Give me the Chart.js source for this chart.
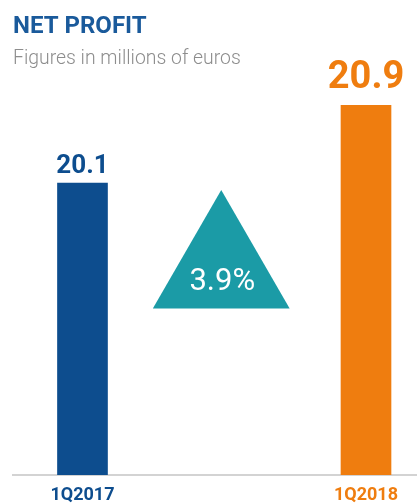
<!DOCTYPE html>
<html>
<head>
<meta charset="utf-8">
<script src="https://cdn.jsdelivr.net/npm/chart.js@4.4.1/dist/chart.umd.min.js"></script>
<style>
  html, body { margin: 0; padding: 0; background: #fff; }
  #wrap { width: 417px; height: 504px; }
</style>
</head>
<body>
<div id="wrap"><canvas id="profitChart"></canvas></div>
<script>
// Données du graphique
const categories = ['1Q2017', '1Q2018'];
const netProfit = [20.1, 20.9];
const growthLabel = '3.9%';

// Styles
const barColors = ['#0d4d8e', '#ef7d0f'];
const valueFontSizes = [26, 38];
const valueGaps = [10, 17];
const teal = '#1b9ba6';

// Étiquettes des valeurs au-dessus des barres + triangle de croissance
const overlayPlugin = {
    id: 'overlay',
    afterDatasetsDraw(chart) {
        const ctx = chart.ctx;
        const meta = chart.getDatasetMeta(0);
        const area = chart.chartArea;
        const xScale = chart.scales.x;
        ctx.save();

        meta.data.forEach((bar, i) => {
            ctx.fillStyle = barColors[i];
            ctx.font = 'bold ' + valueFontSizes[i] + 'px Roboto';
            ctx.textAlign = 'center';
            ctx.textBaseline = 'alphabetic';
            ctx.fillText(netProfit[i].toFixed(1), bar.x, bar.y - valueGaps[i]);
        });

        // triangle équilatéral entre les deux barres
        const cx = xScale.getPixelForValue(0.5) - 3;
        const cy = area.bottom - 206;
        const r = 79;
        ctx.beginPath();
        ctx.moveTo(cx, cy - r);
        ctx.lineTo(cx + r * Math.sin(2 * Math.PI / 3), cy + r / 2);
        ctx.lineTo(cx - r * Math.sin(2 * Math.PI / 3), cy + r / 2);
        ctx.closePath();
        ctx.fillStyle = teal;
        ctx.fill();

        ctx.fillStyle = '#ffffff';
        ctx.font = '31px Roboto';
        ctx.textAlign = 'center';
        ctx.textBaseline = 'alphabetic';
        ctx.fillText(growthLabel, cx + 1, cy + 21);
        ctx.restore();
    }
};

new Chart(document.getElementById('profitChart'), {
    type: 'bar',
    data: {
        datasets: [{
            data: netProfit.map((v, i) => ({ x: i, y: v })),
            backgroundColor: barColors,
            barThickness: 50,
            borderWidth: 0
        }]
    },
    options: {
        responsive: true,
        maintainAspectRatio: false,
        animation: false,
        layout: { padding: { left: 13, right: 0, top: 0, bottom: 0 } },
        plugins: {
            legend: { display: false },
            tooltip: { enabled: false },
            title: {
                display: true,
                text: 'NET PROFIT',
                align: 'start',
                color: '#1a5a9b',
                font: { family: 'Roboto', size: 24, weight: 'bold' },
                padding: { top: 13, bottom: 4 }
            },
            subtitle: {
                display: true,
                text: 'Figures in millions of euros',
                align: 'start',
                color: '#8d8d8d',
                font: { family: 'Roboto', size: 19.4, weight: '300' },
                padding: { top: 2, bottom: 3 }
            }
        },
        scales: {
            x: {
                type: 'linear',
                min: -0.2451,
                max: 1.1799,
                offset: false,
                grid: { display: false, drawTicks: false },
                border: { display: true, color: '#d3d3d3', width: 2 },
                afterBuildTicks(scale) {
                    scale.ticks = categories.map((c, i) => ({ value: i }));
                },
                afterFit(scale) {
                    scale.height = 29;
                },
                ticks: {
                    autoSkip: false,
                    maxRotation: 0,
                    padding: 10,
                    font: { family: 'Roboto', size: 18, weight: 'bold' },
                    color: (c) => barColors[c.index],
                    callback: (value) => categories[value]
                }
            },
            y: {
                display: false,
                min: 17.1,
                max: 21.22
            }
        }
    },
    plugins: [overlayPlugin]
});
</script>
</body>
</html>
